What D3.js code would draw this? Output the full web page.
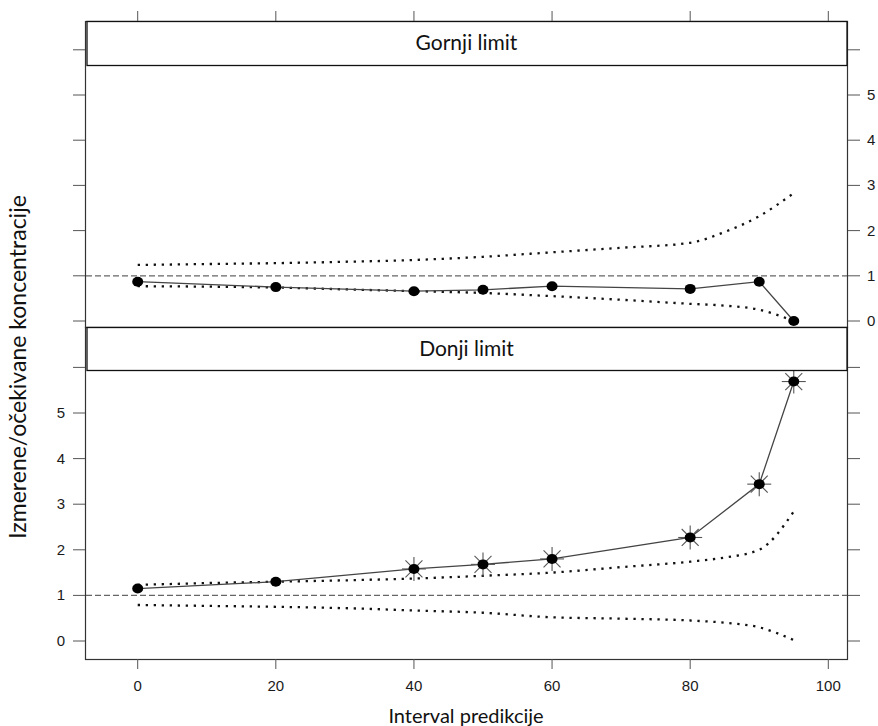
<!DOCTYPE html>
<html>
<head>
<meta charset="utf-8">
<script src="https://cdn.jsdelivr.net/npm/d3@7"></script>
<style>
  body { margin: 0; background: #fff; }
  text { font-family: "Liberation Sans", Arial, sans-serif; }
  .title { font-family: Lato, "Open Sans", sans-serif; fill: #111; }
</style>
</head>
<body>
<svg id="chart" width="878" height="726"></svg>
<script>
// interval levels on the x axis
var intervals = [0, 20, 40, 50, 60, 80, 90, 95];

// measured / expected ratio at each interval
var gornjiValues = [0.87, 0.75, 0.66, 0.69, 0.77, 0.71, 0.87, 0.0];
var donjiValues  = [1.15, 1.30, 1.58, 1.68, 1.80, 2.27, 3.44, 5.69];
var donjiOutside = [false, false, true, true, true, true, true, true];

// dotted bands
var bandX      = [0, 10, 20, 30, 40, 50, 60, 70, 80, 85, 90, 95];
var gornjiHigh = [1.24, 1.26, 1.28, 1.31, 1.35, 1.42, 1.52, 1.62, 1.73, 1.97, 2.32, 2.83];
var gornjiLow  = [0.77, 0.76, 0.74, 0.70, 0.66, 0.62, 0.55, 0.47, 0.38, 0.34, 0.25, 0.0];
var donjiHigh  = [1.23, 1.27, 1.30, 1.33, 1.37, 1.43, 1.50, 1.62, 1.74, 1.83, 2.0, 2.84];
var donjiLow   = [0.79, 0.77, 0.75, 0.72, 0.67, 0.62, 0.52, 0.49, 0.45, 0.40, 0.30, 0.02];

var xTicks = [0, 20, 40, 60, 80, 100];
var yTicks = [0, 1, 2, 3, 4, 5, 6];
var yLabels = [0, 1, 2, 3, 4, 5];

var svg = d3.select("#chart");
var left = 85, right = 848;

var x = d3.scaleLinear().domain([0, 100]).range([137.7, 828.3]);

function drawPanel(opts) {
  var y = d3.scaleLinear().domain([0, 6]).range(opts.yRange);
  var g = svg.append("g");

  // frame
  g.append("rect")
      .attr("x", left + 0.5)
      .attr("y", opts.top + 0.5)
      .attr("width", right - left - 1)
      .attr("height", opts.bottom - opts.top)
      .attr("fill", "none")
      .attr("stroke", "#333")
      .attr("stroke-width", 1.2);

  // y ticks both sides
  g.selectAll(".ltick")
    .data(yTicks)
    .enter()
    .append("line")
      .attr("x1", left - 12).attr("x2", left)
      .attr("y1", d => y(d)).attr("y2", d => y(d))
      .attr("stroke", "#555");

  g.selectAll(".rtick")
    .data(yTicks)
    .enter()
    .append("line")
      .attr("x1", right).attr("x2", right + 12)
      .attr("y1", d => y(d)).attr("y2", d => y(d))
      .attr("stroke", "#555");

  g.selectAll(".ylab")
    .data(yLabels)
    .enter()
    .append("text")
      .attr("x", opts.labelSide == "left" ? left - 20 : right + 19)
      .attr("y", d => y(d) + 5)
      .attr("text-anchor", opts.labelSide == "left" ? "end" : "start")
      .style("font-size", "15px")
      .style("fill", "#1a1a1a")
      .text(d => d);

  var plot = g.append("g");

  // reference line at 1
  plot.append("line")
      .attr("x1", left + 1).attr("x2", right - 1)
      .attr("y1", y(1)).attr("y2", y(1))
      .attr("stroke", "#666")
      .attr("stroke-width", 1.2)
      .attr("stroke-dasharray", "6,3");

  var band = d3.line()
      .x((d, i) => x(bandX[i]))
      .y(d => y(d))
      .curve(d3.curveMonotoneX);

  [opts.high, opts.low].forEach(function(arr) {
    plot.append("path")
        .attr("d", band(arr))
        .attr("fill", "none")
        .attr("stroke", "#111")
        .attr("stroke-width", 2.3)
        .attr("stroke-dasharray", "2.3,5.7");
  });

  var line = d3.line()
      .x((d, i) => x(intervals[i]))
      .y(d => y(d));

  plot.append("path")
      .attr("d", line(opts.values))
      .attr("fill", "none")
      .attr("stroke", "#444")
      .attr("stroke-width", 1.3);

  var pts = opts.values.map((v, i) => ({ x: intervals[i], v: v, star: opts.outside ? opts.outside[i] : false }));

  // asterisks for points outside the band
  var spokes = d3.range(8).map(k => k * Math.PI / 4);
  pts.filter(d => d.star).forEach(function(d) {
    spokes.forEach(function(a) {
      plot.append("line")
          .attr("x1", x(d.x)).attr("y1", y(d.v))
          .attr("x2", x(d.x) + 12 * Math.cos(a)).attr("y2", y(d.v) + 12 * Math.sin(a))
          .attr("stroke", "#555")
          .attr("stroke-width", 1.1);
    });
  });

  plot.selectAll(".pt")
    .data(pts)
    .enter()
    .append("ellipse")
      .attr("cx", d => x(d.x))
      .attr("cy", d => y(d.v))
      .attr("rx", 5.5)
      .attr("ry", 5)
      .attr("fill", "#000");

  // strip
  g.append("rect")
      .attr("x", left + 2)
      .attr("y", opts.top + 0.5)
      .attr("width", right - left - 3)
      .attr("height", opts.stripH)
      .attr("fill", "#fff")
      .attr("stroke", "#111")
      .attr("stroke-width", 1.3);

  g.append("text")
      .classed("title", true)
      .attr("x", (left + right) / 2)
      .attr("y", opts.top + 29)
      .attr("text-anchor", "middle")
      .style("font-size", "21px")
      .text(opts.name);
}

drawPanel({
  name: "Gornji limit", top: 21, bottom: 327, stripH: 44,
  yRange: [321, 49.8], labelSide: "right",
  values: gornjiValues, high: gornjiHigh, low: gornjiLow
});

drawPanel({
  name: "Donji limit", top: 327, bottom: 659, stripH: 43,
  yRange: [641, 367.4], labelSide: "left",
  values: donjiValues, outside: donjiOutside, high: donjiHigh, low: donjiLow
});

// x axis ticks top and bottom
svg.selectAll(".ttick")
  .data(xTicks)
  .enter()
  .append("line")
    .attr("x1", d => x(d)).attr("x2", d => x(d))
    .attr("y1", 11).attr("y2", 21)
    .attr("stroke", "#555");

svg.selectAll(".btick")
  .data(xTicks)
  .enter()
  .append("line")
    .attr("x1", d => x(d)).attr("x2", d => x(d))
    .attr("y1", 659).attr("y2", 669)
    .attr("stroke", "#555");

svg.selectAll(".xlab")
  .data(xTicks)
  .enter()
  .append("text")
    .attr("x", d => x(d))
    .attr("y", 691)
    .attr("text-anchor", "middle")
    .style("font-size", "15px")
    .style("fill", "#1a1a1a")
    .text(d => d);

svg.append("text")
    .classed("title", true)
    .attr("x", 466)
    .attr("y", 723)
    .attr("text-anchor", "middle")
    .style("font-size", "20px")
    .text("Interval predikcije");

svg.append("text")
    .classed("title", true)
    .attr("transform", "translate(26, 367) rotate(-90)")
    .attr("text-anchor", "middle")
    .style("font-size", "23px")
    .text("Izmerene/očekivane koncentracije");
</script>
</body>
</html>
